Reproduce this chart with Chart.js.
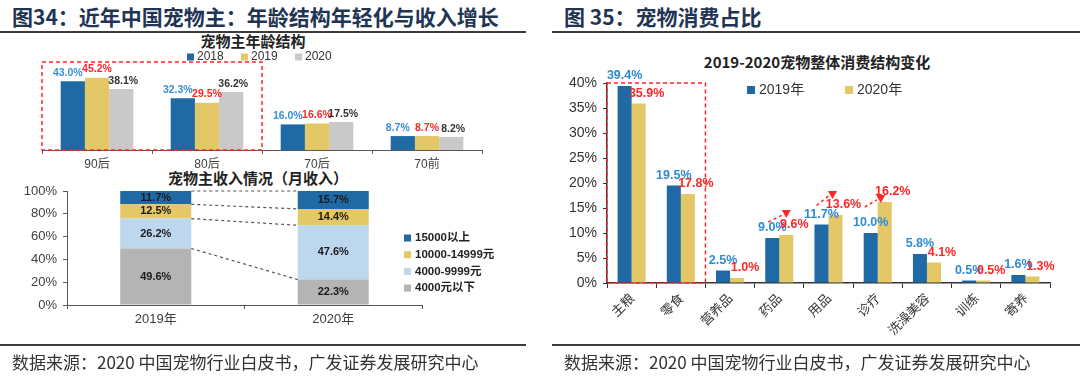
<!DOCTYPE html>
<html>
<head>
<meta charset="utf-8">
<script src="https://cdn.jsdelivr.net/npm/chart.js@4.4.0/dist/chart.umd.min.js"></script>
<style>
body { margin: 0; width: 1080px; height: 378px; background: #fff; position: relative; overflow: hidden; font-family: "Noto Sans CJK SC", sans-serif; }
canvas { position: absolute; left: 0; top: 0; }
.t { position: absolute; white-space: nowrap; }
.hdr { font-size: 21px; font-weight: bold; color: #1f3553; line-height: 30px; top: 1px; }
.rule { position: absolute; height: 2px; background: #3c3c3c; }
.ctitle { font-size: 15px; font-weight: bold; color: #222; line-height: 20px; text-align: center; width: 300px; }
.src { font-size: 17px; color: #333; line-height: 22px; top: 351px; }
</style>
</head>
<body>
<div class="t hdr" style="left:12px">图34：近年中国宠物主：年龄结构年轻化与收入增长</div>
<div class="rule" style="left:0;width:526px;top:31px"></div>
<div class="t hdr" style="left:564px">图 35：宠物消费占比</div>
<div class="rule" style="left:552px;width:528px;top:31px"></div>

<div class="t ctitle" style="left:103px;top:31px">宠物主年龄结构</div>
<div class="t ctitle" style="left:108px;top:168px">宠物主收入情况（月收入）</div>
<div class="t ctitle" style="left:667px;top:52px">2019-2020宠物整体消费结构变化</div>

<canvas id="ageChart" width="1080" height="378"></canvas>
<canvas id="incomeChart" width="1080" height="378"></canvas>
<canvas id="spendChart" width="1080" height="378"></canvas>

<div class="rule" style="left:0;width:526px;top:344px"></div>
<div class="rule" style="left:552px;width:528px;top:344px"></div>
<div class="t src" style="left:12px">数据来源：2020 中国宠物行业白皮书，广发证券发展研究中心</div>
<div class="t src" style="left:564px">数据来源：2020 中国宠物行业白皮书，广发证券发展研究中心</div>

<script>
// 宠物主年龄结构
var ageCats = ['90后', '80后', '70后', '70前'];
var age2018 = [43.0, 32.3, 16.0, 8.7];
var age2019 = [45.2, 29.5, 16.6, 8.7];
var age2020 = [38.1, 36.2, 17.5, 8.2];

// 宠物主收入情况（月收入）
var incomeYears = ['2019年', '2020年'];
var incomeUnder4000 = [49.6, 22.3];
var income4000to9999 = [26.2, 47.6];
var income10000to14999 = [12.5, 14.4];
var incomeOver15000 = [11.7, 15.7];
var incomeTicks = [0, 20, 40, 60, 80, 100];

// 2019-2020宠物整体消费结构变化
var spendCats = ['主粮', '零食', '营养品', '药品', '用品', '诊疗', '洗澡美容', '训练', '寄养'];
var spend2019 = [39.4, 19.5, 2.5, 9.0, 11.7, 10.0, 5.8, 0.5, 1.6];
var spend2020 = [35.9, 17.8, 1.0, 9.6, 13.6, 16.2, 4.1, 0.5, 1.3];
var spendTicks = [0, 5, 10, 15, 20, 25, 30, 35, 40];

var BLUE = '#1f69a4';
var GOLD = '#e4c766';
var GRAY = '#c9c9c9';
var RED = '#ff2626';
var AXIS = '#595959';
var SANS = '"Liberation Sans", "Noto Sans CJK SC", sans-serif';

Chart.defaults.font.family = SANS;
Chart.defaults.color = '#404040';

var pct = function (v) { return v.toFixed(1) + '%'; };

// value labels above (or inside) the bars
var barLabels = {
    id: 'barLabels',
    afterDatasetsDraw: function (chart, args, o) {
        var ctx = chart.ctx;
        chart.data.datasets.forEach(function (ds, i) {
            var meta = chart.getDatasetMeta(i);
            ctx.save();
            ctx.font = o.font;
            ctx.fillStyle = ds.labelColor;
            ctx.textAlign = 'center';
            meta.data.forEach(function (bar, j) {
                var txt = pct(ds.data[j]);
                if (o.inside) {
                    ctx.textBaseline = 'middle';
                    ctx.fillText(txt, bar.x, (bar.y + bar.base) / 2);
                } else {
                    ctx.textBaseline = 'bottom';
                    ctx.fillText(txt, bar.x + (ds.labelDx || 0), bar.y - o.gap);
                }
            });
            ctx.restore();
        });
    }
};

// legend at a fixed spot
var fixedLegend = {
    id: 'fixedLegend',
    afterDraw: function (chart, args, o) {
        var ctx = chart.ctx;
        var idx = chart.data.datasets.map(function (d, i) { return i; });
        if (o.reverse) idx.reverse();
        ctx.save();
        ctx.font = o.font;
        ctx.textBaseline = 'middle';
        ctx.textAlign = 'left';
        idx.forEach(function (i, k) {
            var ds = chart.data.datasets[i];
            var x = o.x + (o.dx || 0) * k;
            var y = o.y + (o.dy || 0) * k;
            ctx.fillStyle = ds.backgroundColor;
            ctx.fillRect(x, y - o.box / 2, o.box, o.box);
            ctx.fillStyle = o.color;
            ctx.fillText(ds.label, x + o.box + o.gap, y);
        });
        ctx.restore();
    }
};

// red dashed frame round the first categories
var redBox = {
    id: 'redBox',
    afterDraw: function (chart, args, o) {
        var x = chart.scales.x, a = chart.chartArea, ctx = chart.ctx;
        var right = (x.getPixelForValue(o.last) + x.getPixelForValue(o.last + 1)) / 2;
        ctx.save();
        ctx.strokeStyle = RED;
        ctx.lineWidth = 1.5;
        ctx.setLineDash([4, 3]);
        ctx.strokeRect(a.left, a.top, right - a.left, a.bottom - a.top);
        ctx.restore();
    }
};

// dashed lines joining the stacked segments
var connectors = {
    id: 'connectors',
    afterDatasetsDraw: function (chart) {
        var ctx = chart.ctx;
        ctx.save();
        ctx.strokeStyle = '#555';
        ctx.lineWidth = 1.2;
        ctx.setLineDash([3, 3]);
        chart.data.datasets.forEach(function (ds, i) {
            var m = chart.getDatasetMeta(i);
            var a = m.data[0], b = m.data[1];
            ctx.beginPath();
            ctx.moveTo(a.x + a.width / 2, a.y);
            ctx.lineTo(b.x - b.width / 2, b.y);
            ctx.stroke();
        });
        ctx.restore();
    }
};

// small red dashed arrows over the growing categories
var arrows = {
    id: 'arrows',
    afterDraw: function (chart, args, o) {
        var ctx = chart.ctx;
        var m0 = chart.getDatasetMeta(0), m1 = chart.getDatasetMeta(1);
        ctx.save();
        o.items.forEach(function (it) {
            var b0 = m0.data[it.index], b1 = m1.data[it.index];
            var x0 = b0.x + it.from[0], y0 = b0.y + it.from[1];
            var x1 = b1.x + it.to[0], y1 = b1.y + it.to[1];
            ctx.strokeStyle = RED;
            ctx.lineWidth = 1.5;
            ctx.setLineDash([3, 3]);
            ctx.beginPath();
            ctx.moveTo(x0, y0);
            ctx.lineTo(x1 - 4, y1 + 1);
            ctx.stroke();
            ctx.setLineDash([]);
            ctx.fillStyle = RED;
            ctx.beginPath();
            ctx.moveTo(x1 - 4.5, y1 - 4);
            ctx.lineTo(x1 + 4.5, y1 - 4);
            ctx.lineTo(x1, y1 + 4);
            ctx.closePath();
            ctx.fill();
        });
        ctx.restore();
    }
};

new Chart(document.getElementById('ageChart'), {
    type: 'bar',
    data: {
        labels: ageCats,
        datasets: [
            { label: '2018', data: age2018, backgroundColor: BLUE, labelColor: '#3a8fd9', labelDx: -5 },
            { label: '2019', data: age2019, backgroundColor: GOLD, labelColor: RED },
            { label: '2020', data: age2020, backgroundColor: GRAY, labelColor: '#333', labelDx: 2 }
        ]
    },
    options: {
        responsive: false,
        animation: false,
        datasets: { bar: { categoryPercentage: 0.66, barPercentage: 1 } },
        layout: { padding: { left: 42, right: 598, top: 62, bottom: 198 } },
        scales: {
            x: {
                grid: { drawOnChartArea: false, tickLength: 4, color: AXIS },
                border: { color: AXIS },
                ticks: { font: { size: 12 }, color: '#404040', padding: 3 },
                afterFit: function (s) { s.height = 30; }
            },
            y: { display: false, min: 0, max: 55 }
        },
        plugins: {
            legend: { display: false },
            tooltip: { enabled: false },
            barLabels: { font: 'bold 10.5px ' + SANS, gap: 3 },
            fixedLegend: { x: 187, y: 57, dx: 54, box: 7, gap: 3, font: '12px ' + SANS, color: '#333' },
            redBox: { last: 1 }
        }
    },
    plugins: [barLabels, fixedLegend, redBox]
});

new Chart(document.getElementById('incomeChart'), {
    type: 'bar',
    data: {
        labels: incomeYears,
        datasets: [
            { label: '4000元以下', data: incomeUnder4000, backgroundColor: '#b4b4b4', labelColor: '#1a1a1a' },
            { label: '4000-9999元', data: income4000to9999, backgroundColor: '#bdd7ee', labelColor: '#1a1a1a' },
            { label: '10000-14999元', data: income10000to14999, backgroundColor: GOLD, labelColor: '#1a1a1a' },
            { label: '15000以上', data: incomeOver15000, backgroundColor: BLUE, labelColor: '#1a1a1a' }
        ]
    },
    options: {
        responsive: false,
        animation: false,
        datasets: { bar: { categoryPercentage: 0.4, barPercentage: 1 } },
        layout: { padding: { left: 10, right: 658, top: 191, bottom: 48 } },
        scales: {
            x: {
                stacked: true,
                grid: { drawOnChartArea: false, tickLength: 4, color: AXIS },
                border: { color: AXIS },
                ticks: { font: { size: 13 }, color: '#404040', padding: 3 },
                afterFit: function (s) { s.height = 25; }
            },
            y: {
                stacked: true,
                min: 0,
                max: 100,
                grid: { drawOnChartArea: false, tickLength: 4, color: AXIS },
                border: { color: AXIS },
                afterBuildTicks: function (s) { s.ticks = incomeTicks.map(function (v) { return { value: v }; }); },
                ticks: { font: { size: 13 }, color: '#404040', padding: 6, callback: function (v) { return v + '%'; } },
                afterFit: function (s) { s.width = 57; }
            }
        },
        plugins: {
            legend: { display: false },
            tooltip: { enabled: false },
            barLabels: { font: 'bold 11px ' + SANS, inside: true },
            fixedLegend: { x: 404, y: 238, dy: 16.7, box: 7, gap: 4, font: 'bold 11.5px ' + SANS, color: '#222', reverse: true }
        }
    },
    plugins: [connectors, barLabels, fixedLegend]
});

new Chart(document.getElementById('spendChart'), {
    type: 'bar',
    data: {
        labels: spendCats,
        datasets: [
            { label: '2019年', data: spend2019, backgroundColor: BLUE, labelColor: '#2e8ad6', labelDx: 0 },
            { label: '2020年', data: spend2020, backgroundColor: GOLD, labelColor: RED, labelDx: 8 }
        ]
    },
    options: {
        responsive: false,
        animation: false,
        datasets: { bar: { categoryPercentage: 0.57, barPercentage: 1 } },
        layout: { padding: { left: 10, right: 30, top: 83, bottom: 35 } },
        scales: {
            x: {
                grid: { drawOnChartArea: false, tickLength: 5, color: '#333' },
                border: { color: '#333', width: 1.5 },
                ticks: { font: { size: 13, family: '"Noto Sans CJK SC", sans-serif' }, color: '#333', padding: 2, minRotation: 45, maxRotation: 45 },
                afterFit: function (s) { s.height = 60; }
            },
            y: {
                min: 0,
                max: 40,
                grid: { drawOnChartArea: false, tickLength: 4, color: '#333' },
                border: { color: '#333', width: 1.5 },
                afterBuildTicks: function (s) { s.ticks = spendTicks.map(function (v) { return { value: v }; }); },
                ticks: { font: { size: 14 }, color: '#333', padding: 6, callback: function (v) { return v + '%'; } },
                afterFit: function (s) { s.width = 597; }
            }
        },
        plugins: {
            legend: { display: false },
            tooltip: { enabled: false },
            barLabels: { font: 'bold 12.5px ' + SANS, gap: 4 },
            fixedLegend: { x: 747, y: 90, dx: 98, box: 8, gap: 4, font: '14px ' + SANS, color: '#333' },
            redBox: { last: 1 },
            arrows: {
                items: [
                    { index: 3, from: [-4, -16], to: [0, -21] },
                    { index: 4, from: [-5, -19], to: [-3, -20] },
                    { index: 5, from: [-6, -26], to: [-4, -3] }
                ]
            }
        }
    },
    plugins: [barLabels, fixedLegend, redBox, arrows]
});
</script>
</body>
</html>
